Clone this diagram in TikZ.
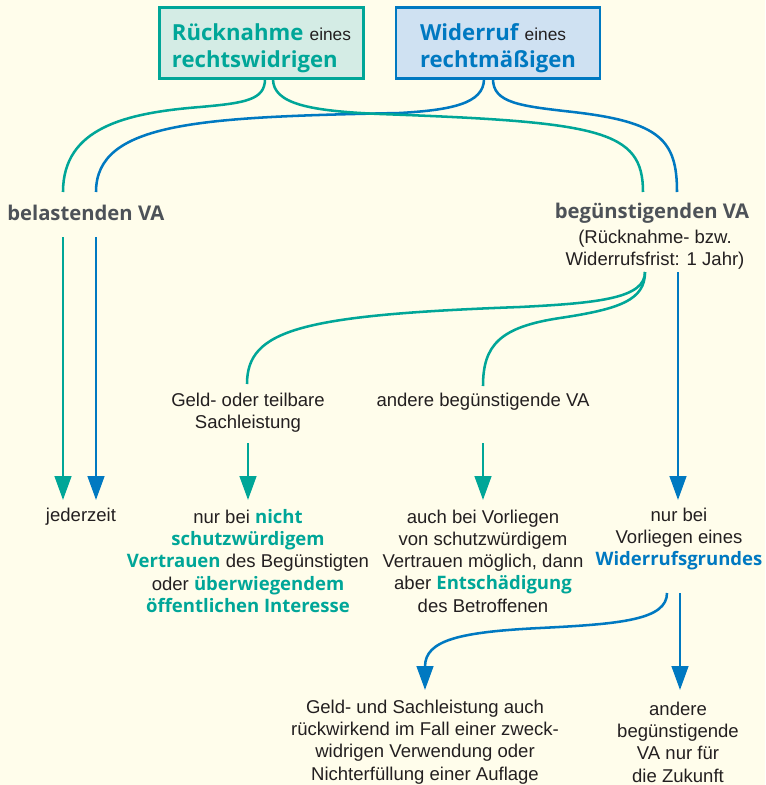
\documentclass[tikz,border=0pt]{standalone}
\usepackage{fontspec}
\setmainfont{Liberation Sans}
\newfontfamily\headfont{Open Sans}
\usetikzlibrary{arrows.meta}

\definecolor{paper}{RGB}{255,253,235}
\definecolor{tealc}{RGB}{0,166,152}
\definecolor{bluec}{RGB}{0,121,193}
\definecolor{tealfill}{RGB}{212,236,229}
\definecolor{bluefill}{RGB}{207,225,242}
\definecolor{ink}{RGB}{35,31,32}
\definecolor{headgray}{RGB}{77,82,88}

\newcommand\tealbf[1]{{\headfont\bfseries\color{tealc}#1}}
\newcommand\bluebf[1]{{\headfont\bfseries\color{bluec}#1}}
\newcommand\smalleines{{\fontsize{13}{15}\selectfont eines}}

\tikzset{
  txt/.style={align=center, inner sep=0pt, text=ink, font=\fontsize{13.9}{16.7}\selectfont},
  head/.style={inner sep=0pt, text=headgray, font=\headfont\bfseries\fontsize{15.2}{18}\selectfont},
  topbox/.style={line width=2pt, minimum width=153pt, minimum height=53.5pt, inner sep=0pt,
    align=left, text=ink, font=\fontsize{16.6}{20}\selectfont},
  tealline/.style={draw=tealc, line width=1.9pt},
  blueline/.style={draw=bluec, line width=1.9pt},
  flowarrow/.style={-{Triangle[length=18pt,width=12.5pt]}}
}

\begin{document}
\begin{tikzpicture}[x=0.75pt,y=-0.75pt]
    \useasboundingbox (0,0) rectangle (765,785);
    \fill[paper] (0,0) rectangle (765,785);

    % top boxes
    \node[topbox, draw=tealc, fill=tealfill] (rueck) at (261.5,43)
        {\rule{0pt}{20pt}\tealbf{Rücknahme} \smalleines\\\tealbf{rechtswidrigen}};
    \node[topbox, draw=bluec, fill=bluefill] (wider) at (498,43)
        {\rule{0pt}{20pt}\bluebf{Widerruf} \smalleines\\\bluebf{rechtmäßigen}};

    % second level
    \node[head, anchor=west] (belast) at (7,213) {belastenden VA};
    \node[head] (beguen) at (652,213) {begünstigenden VA};
    \node[txt] (frist) at (655,250) {(Rücknahme- bzw.\\Widerrufsfrist: 1 Jahr)};

    \node[txt] (geld) at (248,413) {Geld- oder teilbare\\Sachleistung};
    \node[txt] (andere) at (483,402) {andere begünstigende VA};

    % results
    \node[txt] (jeder) at (81,517) {jederzeit};
    \node[txt] (nurnicht) at (248,561) {nur bei \tealbf{nicht}\\\tealbf{schutzwürdigem}\\
        \tealbf{Vertrauen} des Begünstigten\\oder \tealbf{überwiegendem}\\\tealbf{öffentlichen Interesse}};
    \node[txt] (auchbei) at (483,561) {auch bei Vorliegen\\von schutzwürdigem\\
        Vertrauen möglich, dann\\aber \tealbf{Entschädigung}\\des Betroffenen};
    \node[txt] (nurbei) at (679,539) {nur bei\\Vorliegen eines\\\bluebf{Widerrufsgrundes}};

    \node[txt] (geldsach) at (425,742) {Geld- und Sachleistung auch\\rückwirkend im Fall einer zweck-\\
        widrigen Verwendung oder\\Nichterfüllung einer Auflage};
    \node[txt] (zukunft) at (678,742) {andere\\begünstigende\\VA nur für\\die Zukunft};

    % connector ends
    \coordinate (rL) at (265,79);
    \coordinate (rR) at (273,79);
    \coordinate (wL) at (484,79);
    \coordinate (wR) at (493,79);
    \coordinate (belT) at (63,192);
    \coordinate (belB) at (96,192);
    \coordinate (begT) at (643,192);
    \coordinate (begB) at (677,192);
    \coordinate (belTd) at (63,237);
    \coordinate (belBd) at (96,237);
    \coordinate (jederT) at (63,500);
    \coordinate (jederB) at (96,500);
    \coordinate (fristT) at (645,272);
    \coordinate (fristB) at (678,272);
    \coordinate (nurbeiIn) at (678,500);
    \coordinate (geldIn) at (247,384);
    \coordinate (andereIn) at (483,386);
    \coordinate (geldOut) at (248,443);
    \coordinate (nurnichtIn) at (248,500);
    \coordinate (andereOut) at (483,443);
    \coordinate (auchbeiIn) at (483,500);
    \coordinate (nurbeiOutL) at (667,593);
    \coordinate (nurbeiOutR) at (680,593);
    \coordinate (geldsachIn) at (425,690);
    \coordinate (zukunftIn) at (680,690);

    % curves from the boxes
    \draw[tealline] (rL) .. controls (265,100) and (245,103) .. (200,107)
        .. controls (125,113) and (63,128) .. (belT);
    \draw[blueline] (wL) .. controls (484,104) and (450,110) .. (400,113)
        .. controls (200,117) and (96,122) .. (belB);
    \draw[tealline] (rR) .. controls (273,104) and (310,111) .. (380,114)
        .. controls (600,122) and (643,130) .. (begT);
    \draw[blueline] (wR) .. controls (493,103) and (520,106) .. (573,112)
        .. controls (660,122) and (677,140) .. (begB);

    % straight arrows
    \draw[tealline, flowarrow] (belTd) -- (jederT);
    \draw[blueline, flowarrow] (belBd) -- (jederB);
    \draw[blueline, flowarrow] (fristB) -- (nurbeiIn);
    \draw[tealline, flowarrow] (geldOut) -- (nurnichtIn);
    \draw[tealline, flowarrow] (andereOut) -- (auchbeiIn);
    \draw[blueline, flowarrow] (nurbeiOutR) -- (zukunftIn);

    % branches below begünstigenden VA
    \draw[tealline] (fristT) .. controls (645,298) and (600,303) .. (520,307)
        .. controls (300,315) and (247,330) .. (geldIn);
    \draw[tealline] (fristT) .. controls (645,300) and (620,309) .. (560,318)
        .. controls (500,327) and (483,345) .. (andereIn);
    \draw[blueline, flowarrow] (nurbeiOutL) .. controls (667,620) and (620,624) .. (540,628)
        .. controls (460,632) and (425,640) .. (geldsachIn);
\end{tikzpicture}
\end{document}
